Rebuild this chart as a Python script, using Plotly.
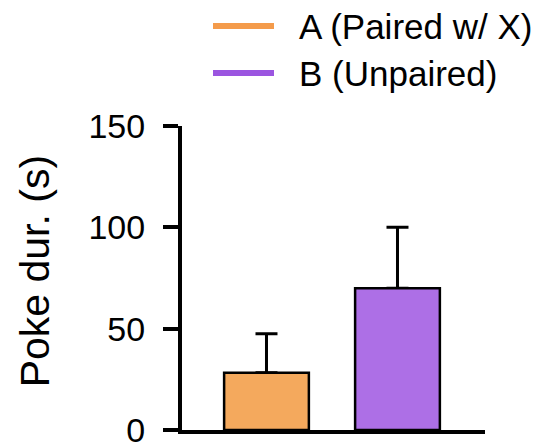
import plotly.graph_objects as go

# Data
groups = ["A", "B"]
legend_names = ["A (Paired w/ X)", "B (Unpaired)"]
means = [28.3, 70.0]
sem_up = [19.2, 30.0]
bar_colors = ["#F4A95D", "#AD6FE6"]
legend_colors = ["#F49B4B", "#9B55E0"]
y_ticks = [0, 50, 100, 150]

FONT = "Liberation Sans, Arial, Helvetica, sans-serif"

fig = go.Figure()
# Upper error bars, drawn underneath the bars so only the whisker above each bar shows
fig.add_trace(go.Bar(
    x=groups,
    y=means,
    width=0.647,
    marker=dict(color="rgba(0,0,0,0)", line=dict(width=0)),
    error_y=dict(type="data", symmetric=False, array=sem_up,
                 arrayminus=[0] * len(means),
                 color="black", thickness=3, width=11),
    showlegend=False, hoverinfo="skip",
))
fig.add_trace(go.Bar(
    x=groups,
    y=means,
    width=0.647,
    marker=dict(color=bar_colors, line=dict(color="black", width=2.5)),
    showlegend=False,
))

# Legend: coloured line swatches plus labels above the axes
offsets = [100, 53]
for name, col, dy in zip(legend_names, legend_colors, offsets):
    fig.add_shape(type="line", xref="paper", yref="paper",
                  xsizemode="pixel", ysizemode="pixel",
                  xanchor=0, yanchor=1,
                  x0=31, x1=92, y0=dy, y1=dy,
                  line=dict(color=col, width=6))
    fig.add_annotation(text=name, xref="paper", yref="paper",
                       x=0, y=1, xshift=115, yshift=dy,
                       xanchor="left", yanchor="middle",
                       showarrow=False,
                       font=dict(family=FONT, size=35, color="black"))

# Y-axis title
fig.add_annotation(text="Poke dur. (s)", xref="paper", yref="paper",
                   x=-0.485, y=0.522, textangle=-90,
                   xanchor="center", yanchor="middle", showarrow=False,
                   font=dict(family=FONT, size=41, color="black"))

fig.update_layout(
    width=536, height=447,
    margin=dict(l=182, r=51, t=126, b=16.5, autoexpand=False),
    barmode="overlay",
    plot_bgcolor="white", paper_bgcolor="white",
    font=dict(family=FONT, size=34, color="black"),
    xaxis=dict(range=[-0.645, 1.668], showticklabels=False, ticks="",
               showline=True, linecolor="black", linewidth=4,
               showgrid=False, zeroline=False, automargin=False),
    yaxis=dict(range=[0, 150], tickvals=y_ticks, ticks="outside",
               ticklen=15, tickwidth=4, tickcolor="black",
               ticklabelstandoff=11, ticklabeloverflow="allow",
               showline=True, linecolor="black", linewidth=4,
               showgrid=False, zeroline=False, automargin=False,
               tickfont=dict(family=FONT, size=34, color="black")),
)

fig.write_html("out.html")
